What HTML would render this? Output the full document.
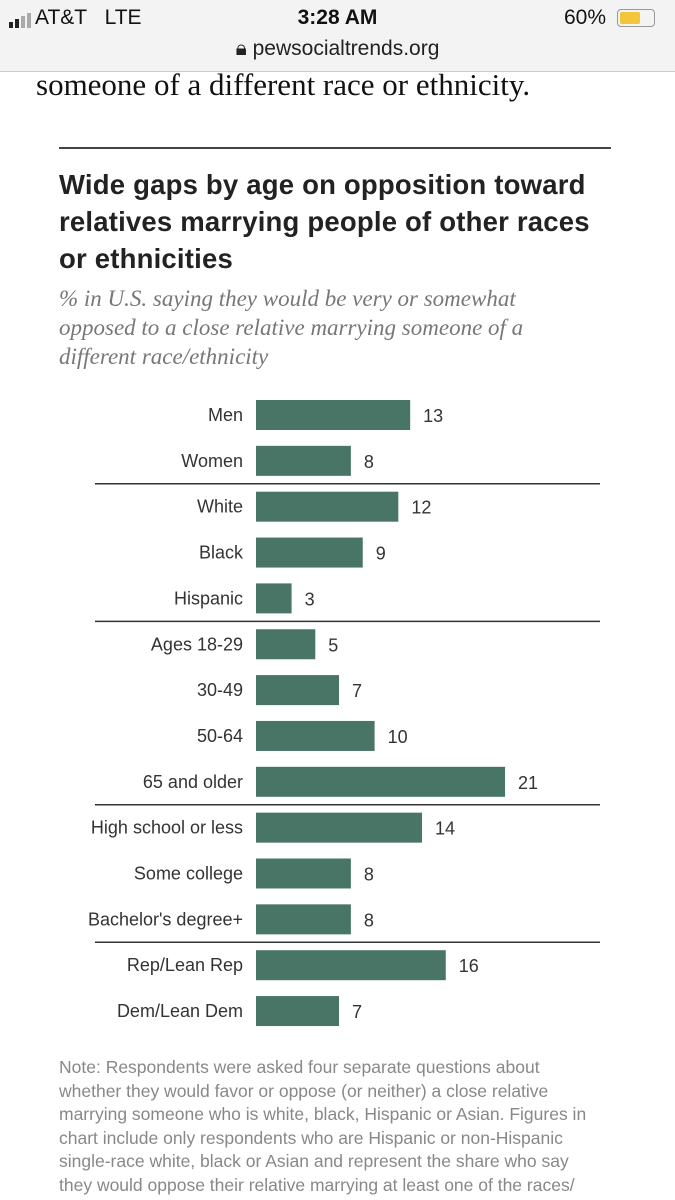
<!DOCTYPE html>
<html><head><meta charset="utf-8"><style>
body{margin:0;width:675px;height:1200px;overflow:hidden;background:#fff;font-family:"Liberation Sans",sans-serif;position:relative}
.abs{position:absolute;white-space:nowrap}
</style></head><body>
<div class="abs" style="left:0;top:0;width:675px;height:71px;background:#f3f3f3;border-bottom:1px solid #ccc">
 <div class="abs" style="left:9px;top:13px;font-size:0">
  <span style="display:inline-block;width:4px;height:6px;background:#222;margin-right:2px;vertical-align:bottom"></span><span style="display:inline-block;width:4px;height:9px;background:#222;margin-right:2px;vertical-align:bottom"></span><span style="display:inline-block;width:4px;height:12px;background:#aaa;margin-right:2px;vertical-align:bottom"></span><span style="display:inline-block;width:4px;height:15px;background:#aaa;vertical-align:bottom"></span></div>
 <div class="abs" style="left:35px;top:6px;font-size:21px;color:#111">AT&amp;T&nbsp;&nbsp; LTE</div>
 <div class="abs" style="left:0;width:675px;text-align:center;top:6px;font-size:21px;font-weight:bold;color:#111">3:28 AM</div>
 <div class="abs" style="left:564px;top:6px;font-size:21px;color:#111">60%</div>
 <div class="abs" style="left:617px;top:9px;width:36px;height:16px;border:1px solid #999;border-radius:4px"><div style="margin:2px;width:20px;height:12px;background:#f2c53a;border-radius:2px"></div></div>
 <div class="abs" style="left:0;width:675px;text-align:center;top:37px;font-size:21px;color:#222">🔒︎ pewsocialtrends.org</div>
</div>
<div class="abs" style="left:36px;top:67px;font-family:'Liberation Serif',serif;font-size:31px;color:#111">someone of a different race or ethnicity.</div>
<div class="abs" style="left:59px;top:147px;width:552px;height:2px;background:#444"></div>
<div class="abs" style="left:59px;top:166px;font-size:27.5px;font-weight:bold;line-height:37px;color:#222;letter-spacing:0.2px">Wide gaps by age on opposition toward<br>relatives marrying people of other races<br>or ethnicities</div>
<div class="abs" style="left:59px;top:284px;font-family:'Liberation Serif',serif;font-style:italic;font-size:23px;line-height:29px;color:#777">% in U.S. saying they would be very or somewhat<br>opposed to a close relative marrying someone of a<br>different race/ethnicity</div>
<svg id="chart" class="abs" style="left:0;top:0" width="675" height="1200"></svg>
<div class="abs" style="left:59px;top:1056px;font-size:17.5px;line-height:23.5px;color:#888">Note: Respondents were asked four separate questions about<br>whether they would favor or oppose (or neither) a close relative<br>marrying someone who is white, black, Hispanic or Asian. Figures in<br>chart include only respondents who are Hispanic or non-Hispanic<br>single-race white, black or Asian and represent the share who say<br>they would oppose their relative marrying at least one of the races/</div>
<script>
const categories=["Men","Women","White","Black","Hispanic","Ages 18-29","30-49","50-64","65 and older","High school or less","Some college","Bachelor's degree+","Rep/Lean Rep","Dem/Lean Dem"];
const values=[13,8,12,9,3,5,7,10,21,14,8,8,16,7];
const dividersAfter=[1,4,8,11];
const svg=document.getElementById('chart');
const NS='http://www.w3.org/2000/svg';
const x0=256,scale=11.86,y0=415,pitch=45.85,bh=30;
const x=v=>x0+v*scale, y=i=>y0+i*pitch;
function mk(t,a){const e=document.createElementNS(NS,t);for(const k in a)e.setAttribute(k,a[k]);svg.appendChild(e);return e;}
categories.forEach((c,i)=>{
 const r=mk('rect',{x:x0,y:y(i)-bh/2,width:x(values[i])-x0,height:bh,fill:'#497566'});
 
 
 const l=mk('text',{x:243,y:y(i)+6,'text-anchor':'end','font-size':18,fill:'#333','font-family':'Liberation Sans, sans-serif'});
 l.textContent=c;
 
 
 const v=mk('text',{x:x(values[i])+13,y:y(i)+7,'font-size':18,fill:'#333','font-family':'Liberation Sans, sans-serif'});
 v.textContent=values[i];
 
 
});
dividersAfter.forEach(i=>{
 const yy=(y(i)+y(i+1))/2;
 const d=mk('line',{x1:95,x2:600,y1:yy,y2:yy,stroke:'#333','stroke-width':1.5});
 
 
});
</script>
</body></html>
